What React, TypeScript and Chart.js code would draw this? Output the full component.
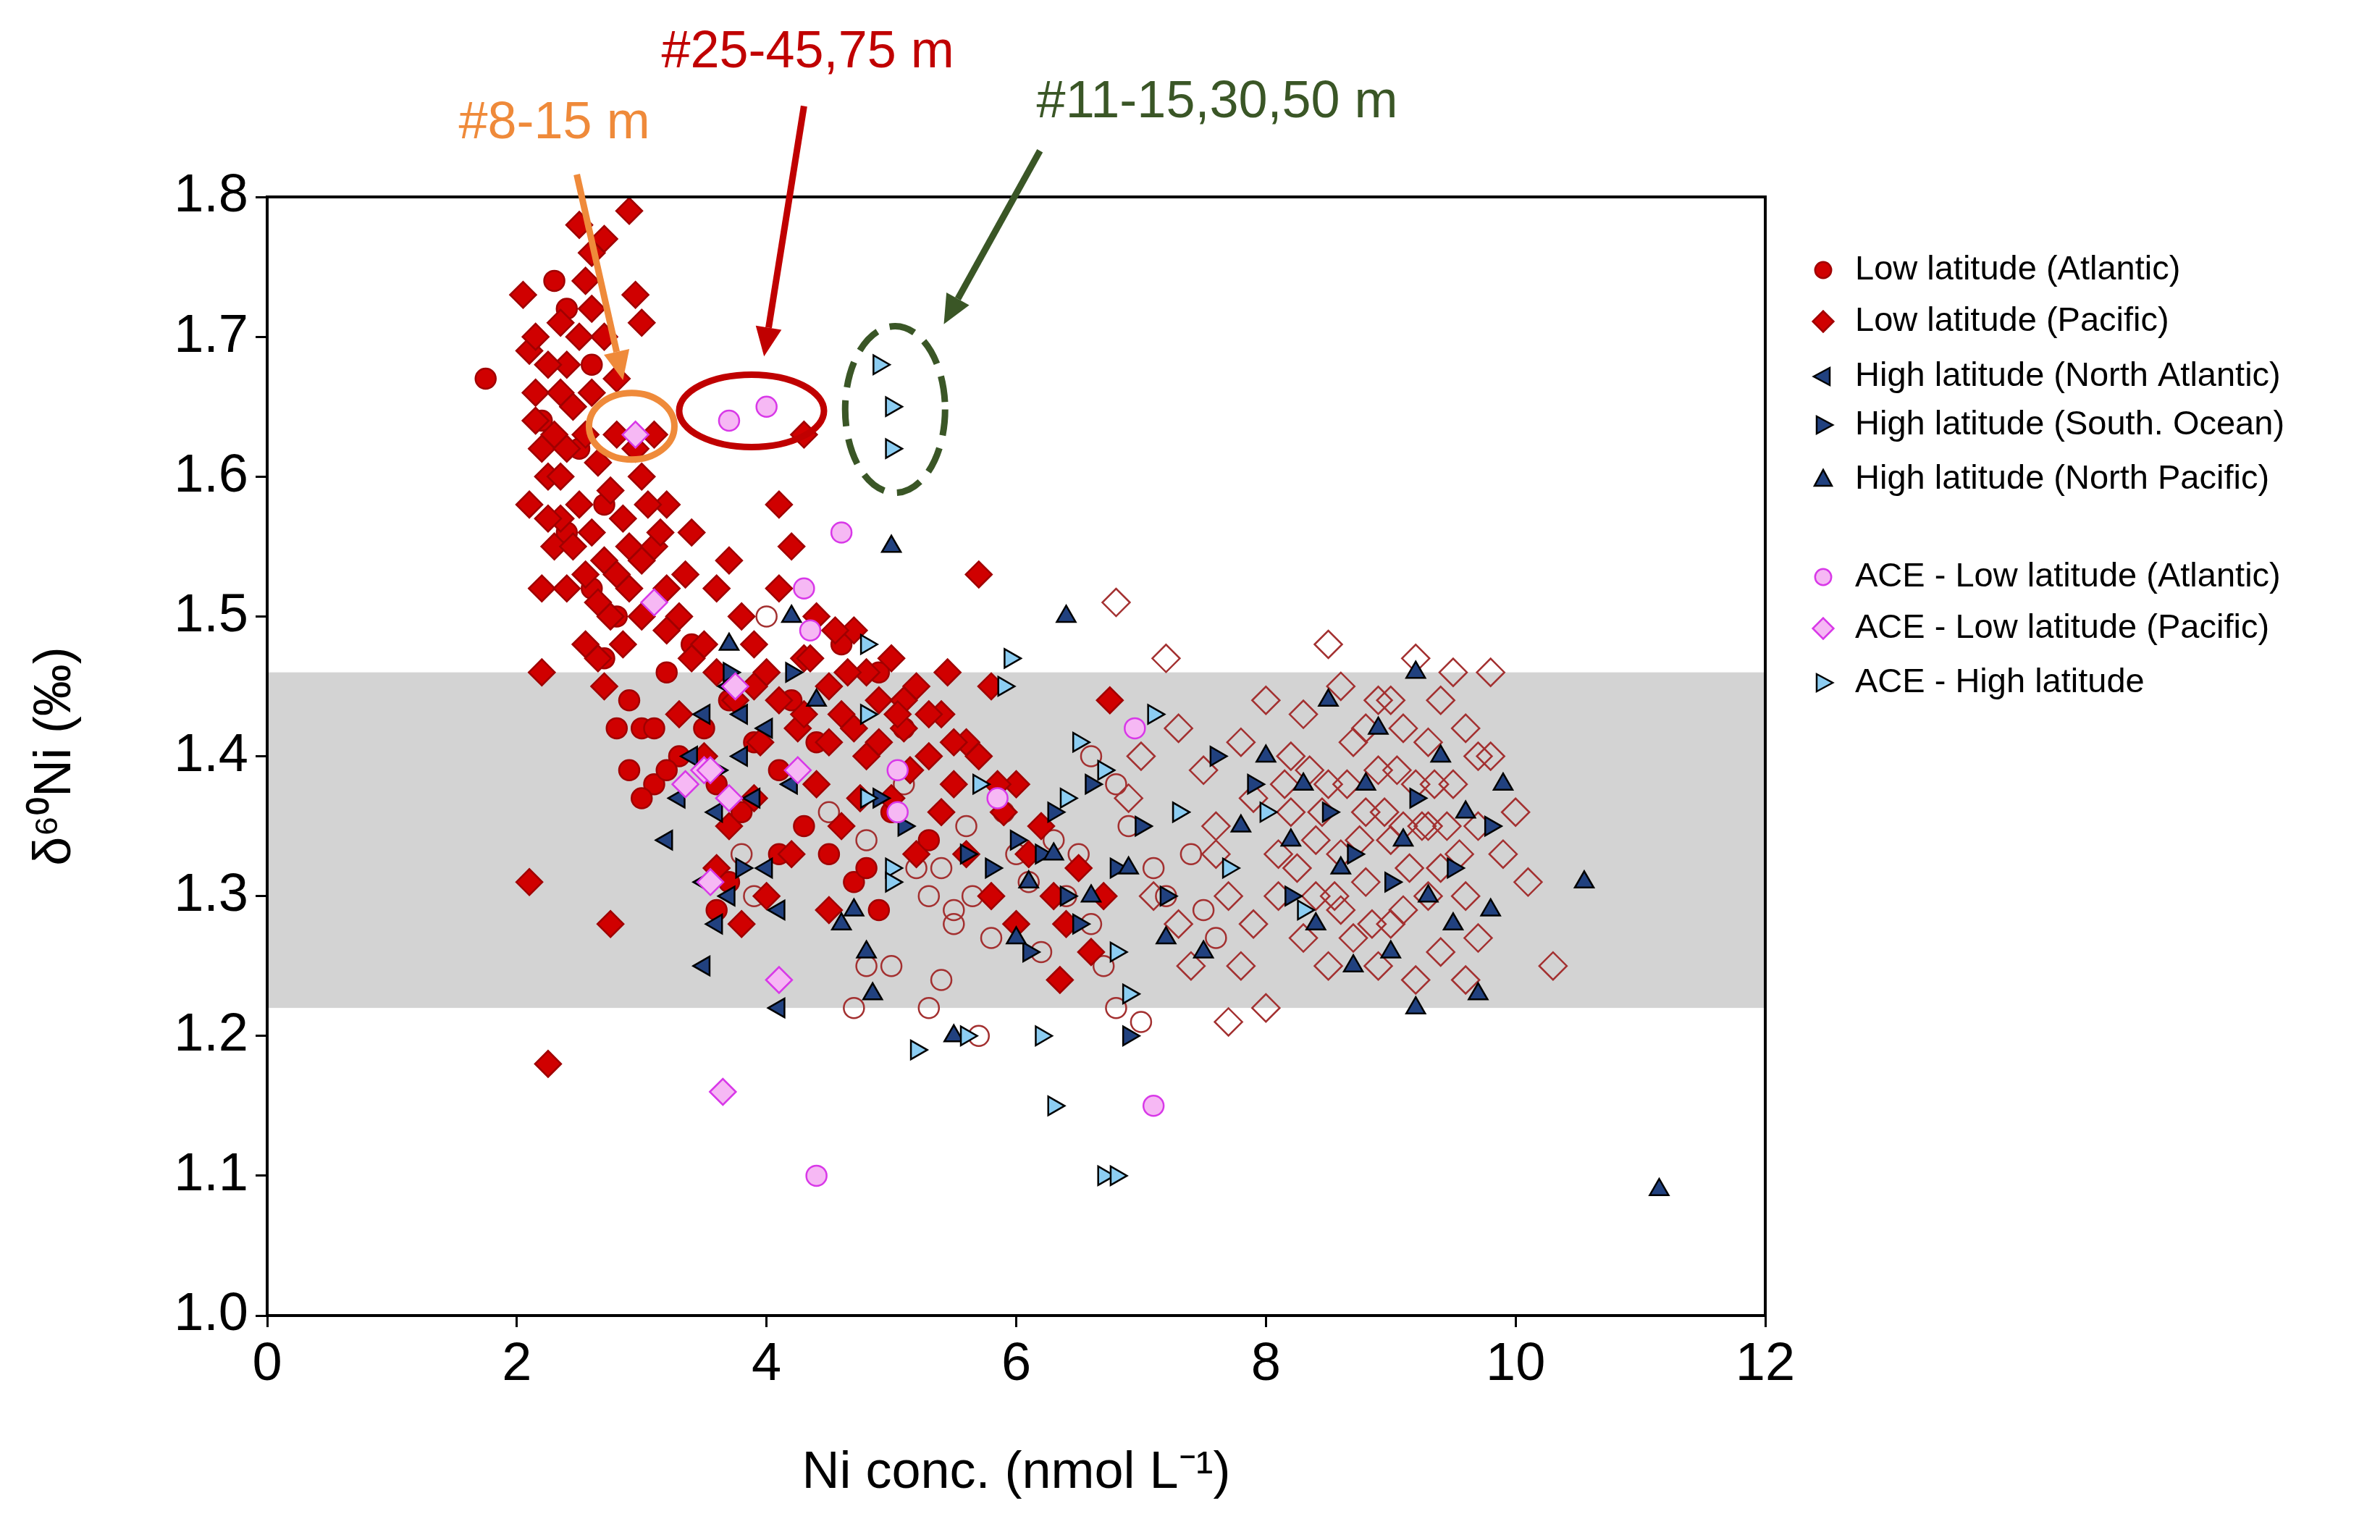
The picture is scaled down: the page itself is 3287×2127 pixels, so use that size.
import React, { useEffect, useRef } from "react";
import { Chart, registerables } from "chart.js";
Chart.register(...registerables);

type P = [number, number];

const xTicks = [0, 2, 4, 6, 8, 10, 12];
const yTicks = [1.0, 1.1, 1.2, 1.3, 1.4, 1.5, 1.6, 1.7, 1.8];
const band: P = [1.22, 1.46];

const lowPacific: P[] = [[2.05,1.73],[2.1,1.69],[2.15,1.66],[2.2,1.62],[2.25,1.6],[2.1,1.58],[2.3,1.55],[2.2,1.52],[2.4,1.68],[2.5,1.78],[2.6,1.76],[2.7,1.77],[2.9,1.79],[2.95,1.73],[3.0,1.71],[2.6,1.72],[2.7,1.7],[2.8,1.67],[2.45,1.65],[2.55,1.63],[2.65,1.61],[2.75,1.59],[2.85,1.57],[2.35,1.57],[2.45,1.55],[2.55,1.53],[2.65,1.51],[2.75,1.5],[2.9,1.55],[3.0,1.6],[3.1,1.63],[3.2,1.58],[3.1,1.55],[3.3,1.5],[3.2,1.52],[3.0,1.5],[2.85,1.48],[2.7,1.45],[2.2,1.46],[2.1,1.31],[2.25,1.18],[2.75,1.28],[2.3,1.63],[2.35,1.6],[2.6,1.66],[2.8,1.63],[2.95,1.62],[3.05,1.58],[3.4,1.56],[3.5,1.48],[3.6,1.52],[3.7,1.54],[3.8,1.5],[3.9,1.48],[4.0,1.46],[4.1,1.58],[4.2,1.55],[4.3,1.63],[4.1,1.52],[4.3,1.47],[4.4,1.5],[4.5,1.45],[4.6,1.43],[4.7,1.49],[4.8,1.46],[4.9,1.44],[5.0,1.47],[5.1,1.42],[5.2,1.45],[5.3,1.4],[5.4,1.43],[5.5,1.38],[5.6,1.41],[5.7,1.53],[5.8,1.45],[5.9,1.36],[6.0,1.38],[6.1,1.33],[6.2,1.35],[6.3,1.3],[6.4,1.28],[6.5,1.32],[6.6,1.26],[6.7,1.3],[6.75,1.44],[6.35,1.24],[6.0,1.28],[5.8,1.3],[3.5,1.4],[3.7,1.35],[3.9,1.37],[4.0,1.3],[4.2,1.33],[4.4,1.38],[4.6,1.35],[4.8,1.4],[5.0,1.37],[3.6,1.32],[3.8,1.28],[3.3,1.43],[4.5,1.29],[5.2,1.33],[5.4,1.36],[5.6,1.33],[3.95,1.41],[4.25,1.42],[4.75,1.37],[5.15,1.39],[2.15,1.7],[2.25,1.68],[2.35,1.66],[2.5,1.7],[2.15,1.64],[2.25,1.57],[2.4,1.62],[2.5,1.58],[2.6,1.56],[2.7,1.54],[2.8,1.53],[2.4,1.52],[2.55,1.48],[2.65,1.47],[2.9,1.52],[3.0,1.54],[3.2,1.49],[3.4,1.47],[3.6,1.46],[3.75,1.44],[3.9,1.45],[4.1,1.44],[4.3,1.43],[4.5,1.41],[4.7,1.42],[4.9,1.41],[5.1,1.44],[5.3,1.43],[5.5,1.41],[5.7,1.4],[5.85,1.38],[4.35,1.47],[4.55,1.49],[4.65,1.46],[5.05,1.43],[5.45,1.46],[3.35,1.53],[3.15,1.56],[2.35,1.71],[2.55,1.74]];
const lowAtlantic: P[] = [[1.75,1.67],[2.3,1.74],[2.4,1.72],[2.6,1.68],[2.2,1.64],[2.5,1.62],[2.7,1.58],[2.4,1.56],[2.6,1.52],[2.8,1.5],[2.7,1.47],[2.9,1.44],[3.0,1.42],[2.9,1.39],[3.1,1.38],[3.0,1.37],[3.3,1.4],[3.5,1.42],[3.7,1.44],[3.9,1.41],[3.6,1.38],[3.8,1.36],[4.1,1.39],[4.3,1.35],[4.5,1.33],[4.7,1.31],[4.9,1.29],[4.1,1.33],[3.7,1.31],[3.6,1.29],[4.8,1.32],[5.0,1.36],[5.3,1.34],[5.1,1.42],[4.9,1.46],[4.6,1.48],[3.2,1.46],[3.4,1.48],[2.8,1.42],[3.1,1.42],[3.2,1.39],[4.2,1.44],[4.4,1.41]];
const openCircles: P[] = [[4.0,1.5],[4.5,1.36],[4.8,1.34],[5.0,1.25],[5.2,1.32],[5.3,1.3],[5.4,1.32],[5.5,1.29],[5.5,1.28],[5.6,1.35],[5.65,1.3],[5.7,1.2],[5.8,1.27],[5.9,1.36],[6.0,1.33],[6.1,1.31],[6.2,1.26],[6.3,1.34],[6.5,1.33],[6.6,1.28],[6.7,1.25],[6.8,1.22],[6.9,1.35],[7.0,1.21],[7.1,1.32],[7.2,1.3],[7.4,1.33],[7.5,1.29],[6.4,1.3],[5.4,1.24],[4.7,1.22],[4.8,1.25],[3.8,1.33],[3.9,1.3],[5.1,1.38],[6.8,1.38],[7.6,1.27],[6.6,1.4],[5.3,1.22]];
const openDiamonds: P[] = [[6.8,1.51],[7.2,1.47],[7.0,1.4],[7.3,1.42],[7.5,1.39],[7.6,1.35],[7.7,1.3],[7.8,1.25],[7.7,1.21],[7.9,1.28],[8.0,1.22],[8.1,1.33],[8.2,1.4],[8.2,1.36],[8.3,1.43],[8.4,1.3],[8.5,1.48],[8.5,1.38],[8.6,1.45],[8.6,1.33],[8.7,1.27],[8.7,1.41],[8.8,1.36],[8.8,1.31],[8.9,1.39],[8.9,1.25],[9.0,1.44],[9.0,1.34],[9.1,1.29],[9.1,1.42],[9.2,1.38],[9.2,1.47],[9.2,1.24],[9.3,1.35],[9.3,1.41],[9.4,1.32],[9.4,1.44],[9.5,1.46],[9.5,1.38],[9.6,1.3],[9.6,1.42],[9.7,1.35],[9.7,1.27],[9.8,1.46],[9.8,1.4],[9.9,1.33],[10.0,1.36],[10.3,1.25],[10.1,1.31],[7.4,1.25],[7.1,1.3],[6.9,1.37],[7.9,1.37],[8.0,1.44],[8.3,1.27],[8.4,1.34],[8.1,1.3],[8.6,1.29],[8.9,1.44],[9.0,1.28],[9.4,1.26],[9.7,1.4],[9.6,1.24],[8.8,1.42],[7.6,1.33],[7.8,1.41],[9.1,1.35],[9.3,1.3],[8.5,1.25],[7.3,1.28],[8.25,1.32],[8.45,1.36],[8.65,1.38],[8.75,1.34],[8.95,1.36],[9.05,1.39],[9.15,1.32],[9.25,1.35],[8.35,1.39],[8.55,1.3],[9.35,1.38],[9.45,1.35],[8.15,1.38],[8.85,1.28],[9.55,1.33]];
const highNAtlantic: P[] = [[3.2,1.34],[3.4,1.4],[3.5,1.25],[3.5,1.31],[3.6,1.28],[3.6,1.36],[3.7,1.45],[3.8,1.4],[3.9,1.37],[4.0,1.32],[4.1,1.22],[4.1,1.29],[3.3,1.37],[3.5,1.43],[3.7,1.3],[4.2,1.38],[3.8,1.43],[4.0,1.42]];
const highSouthern: P[] = [[3.6,1.39],[3.7,1.46],[3.8,1.32],[4.2,1.46],[4.9,1.37],[5.1,1.35],[5.6,1.33],[6.0,1.34],[6.2,1.33],[6.4,1.3],[6.5,1.28],[6.6,1.38],[6.8,1.32],[7.0,1.35],[7.3,1.36],[7.6,1.4],[7.9,1.38],[8.2,1.3],[8.5,1.36],[8.7,1.33],[9.0,1.31],[9.2,1.37],[9.5,1.32],[9.8,1.35],[6.9,1.2],[6.1,1.26],[5.8,1.32],[6.3,1.36],[7.2,1.3]];
const highNPacific: P[] = [[5.0,1.55],[6.4,1.5],[4.7,1.29],[4.8,1.26],[4.85,1.23],[4.6,1.28],[5.5,1.2],[6.0,1.27],[6.1,1.31],[6.3,1.33],[6.6,1.3],[6.9,1.32],[7.2,1.27],[7.5,1.26],[7.8,1.35],[8.0,1.4],[8.3,1.38],[8.5,1.44],[8.6,1.32],[8.7,1.25],[8.8,1.38],[8.9,1.42],[9.0,1.26],[9.1,1.34],[9.2,1.46],[9.3,1.3],[9.4,1.4],[9.5,1.28],[9.6,1.36],[9.7,1.23],[9.8,1.29],[9.9,1.38],[10.55,1.31],[11.15,1.09],[8.4,1.28],[9.2,1.22],[8.2,1.34],[4.4,1.44],[4.2,1.5],[3.7,1.48]];
const aceAtlantic: P[] = [[3.7,1.64],[4.0,1.65],[4.6,1.56],[4.3,1.52],[4.35,1.49],[5.05,1.39],[5.05,1.36],[5.85,1.37],[6.95,1.42],[7.1,1.15],[4.4,1.1]];
const acePacific: P[] = [[2.95,1.63],[3.1,1.51],[3.35,1.38],[3.5,1.39],[3.55,1.39],[3.7,1.37],[3.75,1.45],[4.25,1.39],[3.55,1.31],[4.1,1.24],[3.65,1.16]];
const aceHigh: P[] = [[4.9,1.68],[5.0,1.65],[5.0,1.62],[4.8,1.48],[4.8,1.43],[4.8,1.37],[5.0,1.32],[5.0,1.31],[5.2,1.19],[5.6,1.2],[5.7,1.38],[5.9,1.45],[5.95,1.47],[6.3,1.15],[6.2,1.2],[6.5,1.41],[6.7,1.39],[6.9,1.23],[7.1,1.43],[7.3,1.36],[7.7,1.32],[8.0,1.36],[8.3,1.29],[6.7,1.1],[6.8,1.1],[6.4,1.37],[6.8,1.26]];

const FONT = "'Liberation Sans', Arial, sans-serif";

type S = { label: string | null; data: P[]; style: string; rot: number; fill: string; edge: string; r: number; order: number };
const series: S[] = [
  { label: null, data: openCircles, style: "circle", rot: 0, fill: "rgba(0,0,0,0)", edge: "#a33030", r: 14, order: 10 },
  { label: null, data: openDiamonds, style: "rectRot", rot: 0, fill: "rgba(0,0,0,0)", edge: "#a33030", r: 19, order: 9 },
  { label: "Low latitude (Atlantic)", data: lowAtlantic, style: "circle", rot: 0, fill: "#d00000", edge: "#a00000", r: 14, order: 8 },
  { label: "Low latitude (Pacific)", data: lowPacific, style: "rectRot", rot: 0, fill: "#d00000", edge: "#a00000", r: 18, order: 7 },
  { label: "High latitude (North Atlantic)", data: highNAtlantic, style: "triangle", rot: -90, fill: "#21417f", edge: "#000", r: 15, order: 6 },
  { label: "High latitude (South. Ocean)", data: highSouthern, style: "triangle", rot: 90, fill: "#21417f", edge: "#000", r: 15, order: 5 },
  { label: "High latitude (North Pacific)", data: highNPacific, style: "triangle", rot: 0, fill: "#21417f", edge: "#000", r: 15, order: 4 },
  { label: "ACE - Low latitude (Atlantic)", data: aceAtlantic, style: "circle", rot: 0, fill: "#f6b8f4", edge: "#d838e8", r: 14, order: 2 },
  { label: "ACE - Low latitude (Pacific)", data: acePacific, style: "rectRot", rot: 0, fill: "#f6b8f4", edge: "#d838e8", r: 18, order: 1 },
  { label: "ACE - High latitude", data: aceHigh, style: "triangle", rot: 90, fill: "#8ccdf2", edge: "#000", r: 15, order: 3 },
];

function marker(ctx: CanvasRenderingContext2D, s: S, x: number, y: number) {
  ctx.save();
  ctx.translate(x, y);
  ctx.rotate((s.rot * Math.PI) / 180);
  ctx.beginPath();
  const r = s.r;
  if (s.style === "circle") ctx.arc(0, 0, r, 0, Math.PI * 2);
  else if (s.style === "rectRot") { ctx.moveTo(0, -r); ctx.lineTo(r, 0); ctx.lineTo(0, r); ctx.lineTo(-r, 0); ctx.closePath(); }
  else { ctx.moveTo(0, -r * 1.1); ctx.lineTo(r, r * 0.75); ctx.lineTo(-r, r * 0.75); ctx.closePath(); }
  ctx.fillStyle = s.fill; ctx.fill();
  ctx.strokeStyle = s.edge; ctx.lineWidth = 2.5; ctx.stroke();
  ctx.restore();
}

const plugin = {
  id: "deco",
  beforeDatasetsDraw(chart: any) {
    const { ctx, chartArea: a, scales } = chart;
    const y1 = scales.y.getPixelForValue(band[1]), y0 = scales.y.getPixelForValue(band[0]);
    ctx.save(); ctx.fillStyle = "#d3d3d3"; ctx.fillRect(a.left, y1, a.right - a.left, y0 - y1); ctx.restore();
  },
  afterDraw(chart: any) {
    const { ctx, chartArea: a, scales } = chart;
    const X = (v: number) => scales.x.getPixelForValue(v), Y = (v: number) => scales.y.getPixelForValue(v);
    ctx.save();
    ctx.strokeStyle = "#000"; ctx.lineWidth = 4; ctx.strokeRect(a.left, a.top, a.right - a.left, a.bottom - a.top);
    const arrow = (x0: number, y0: number, x1: number, y1: number, c: string) => {
      const px0 = X(x0), py0 = Y(y0), px1 = X(x1), py1 = Y(y1);
      const ang = Math.atan2(py1 - py0, px1 - px0), h = 40, w = 18;
      ctx.strokeStyle = c; ctx.fillStyle = c; ctx.lineWidth = 9; ctx.setLineDash([]);
      ctx.beginPath(); ctx.moveTo(px0, py0); ctx.lineTo(px1 - h * Math.cos(ang), py1 - h * Math.sin(ang)); ctx.stroke();
      ctx.beginPath(); ctx.moveTo(px1, py1);
      ctx.lineTo(px1 - h * Math.cos(ang) + w * Math.sin(ang), py1 - h * Math.sin(ang) - w * Math.cos(ang));
      ctx.lineTo(px1 - h * Math.cos(ang) - w * Math.sin(ang), py1 - h * Math.sin(ang) + w * Math.cos(ang));
      ctx.closePath(); ctx.fill();
    };
    const ell = (x: number, y: number, rx: number, ry: number, c: string, dash: boolean) => {
      ctx.strokeStyle = c; ctx.lineWidth = 9; ctx.setLineDash(dash ? [36, 18] : []);
      ctx.beginPath(); ctx.ellipse(X(x), Y(y), rx, ry, 0, 0, Math.PI * 2); ctx.stroke(); ctx.setLineDash([]);
    };
    const txt = (s: string, x: number, y: number, c: string) => {
      ctx.fillStyle = c; ctx.font = `72px ${FONT}`; ctx.textAlign = "center"; ctx.textBaseline = "middle";
      ctx.fillText(s, X(x), Y(y));
    };
    const orange = "#ef8a3a", red = "#c00000", green = "#3a5626";
    ell(2.92, 1.636, 59, 46, orange, false);
    arrow(2.48, 1.816, 2.85, 1.669, orange);
    txt("#8-15 m", 2.3, 1.852, orange);
    ell(3.88, 1.647, 100, 50, red, false);
    arrow(4.3, 1.865, 3.98, 1.686, red);
    txt("#25-45,75 m", 4.33, 1.903, red);
    ell(5.03, 1.648, 69, 115, green, true);
    arrow(6.19, 1.833, 5.42, 1.709, green);
    txt("#11-15,30,50 m", 7.61, 1.867, green);
    const rows = [373, 444, 520, 587, 662, 797, 868, 943];
    const leg = series.filter((s) => s.label);
    ctx.font = `47px ${FONT}`; ctx.textAlign = "left"; ctx.textBaseline = "middle";
    leg.forEach((s, i) => {
      marker(ctx, { ...s, r: s.r * 0.8 }, 2518, rows[i]);
      ctx.fillStyle = "#000"; ctx.fillText(s.label as string, 2562, rows[i]);
    });
    ctx.restore();
  },
};

export default function App() {
  const ref = useRef<HTMLCanvasElement>(null);
  useEffect(() => {
    const chart = new Chart(ref.current as HTMLCanvasElement, {
      type: "scatter",
      data: {
        datasets: series.map((s) => ({
          label: s.label ?? "",
          data: s.data.map(([x, y]) => ({ x, y })),
          pointStyle: s.style as any,
          rotation: s.rot,
          pointRadius: s.r,
          pointBackgroundColor: s.fill,
          pointBorderColor: s.edge,
          pointBorderWidth: 2.5,
          order: s.order,
        })),
      },
      options: {
        animation: false,
        responsive: false,
        devicePixelRatio: 1,
        layout: { padding: { top: 272, right: 849, left: 30, bottom: 45 } },
        plugins: { legend: { display: false }, tooltip: { enabled: false } },
        scales: {
          x: {
            type: "linear", min: 0, max: 12,
            afterBuildTicks: (s: any) => { s.ticks = xTicks.map((v) => ({ value: v })); },
            afterFit: (s: any) => { s.height = 265; },
            grid: { drawOnChartArea: false, drawTicks: true, tickLength: 16, color: "#000", lineWidth: 3 },
            border: { display: true, color: "#000", width: 4 },
            ticks: { color: "#000", font: { family: FONT, size: 74 }, padding: 8, maxRotation: 0 },
            title: { display: true, text: "Ni conc. (nmol L⁻¹)", color: "#000", font: { family: FONT, size: 72 }, padding: { top: 10 } },
          },
          y: {
            type: "linear", min: 1.0, max: 1.8,
            afterBuildTicks: (s: any) => { s.ticks = yTicks.map((v) => ({ value: v })); },
            afterFit: (s: any) => { s.width = 339; },
            grid: { drawOnChartArea: false, drawTicks: true, tickLength: 16, color: "#000", lineWidth: 3 },
            border: { display: true, color: "#000", width: 4 },
            ticks: { color: "#000", font: { family: FONT, size: 74 }, padding: 10, callback: (v: any) => Number(v).toFixed(1) },
            title: { display: true, text: "δ⁶⁰Ni (‰)", color: "#000", font: { family: FONT, size: 72 }, padding: { bottom: 10 } },
          },
        },
      } as any,
      plugins: [plugin],
    });
    return () => chart.destroy();
  }, []);
  return (
    <div style={{ position: "fixed", left: 0, top: 0, width: 3287, height: 2127, background: "#fff" }}>
      <canvas ref={ref} width={3287} height={2127} />
    </div>
  );
}
